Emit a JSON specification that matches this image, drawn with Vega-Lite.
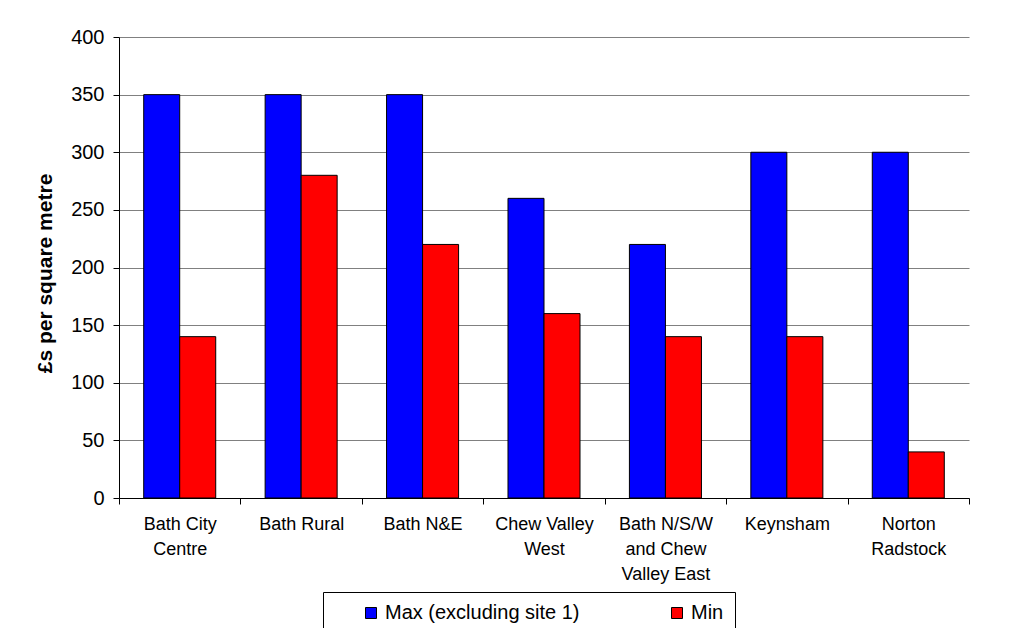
{
  "$schema": "https://vega.github.io/schema/vega-lite/v6.json",
  "width": 850,
  "height": 461,
  "autosize": {"type": "none"},
  "padding": {"left": 119, "top": 37, "right": 49, "bottom": 130},
  "background": "white",
  "config": {"view": {"stroke": null}, "font": "Liberation Sans"},
  "data": {
    "values": [
      {"area": "Bath City Centre", "series": "Max (excluding site 1)", "value": 350},
      {"area": "Bath City Centre", "series": "Min", "value": 140},
      {"area": "Bath Rural", "series": "Max (excluding site 1)", "value": 350},
      {"area": "Bath Rural", "series": "Min", "value": 280},
      {"area": "Bath N&E", "series": "Max (excluding site 1)", "value": 350},
      {"area": "Bath N&E", "series": "Min", "value": 220},
      {"area": "Chew Valley West", "series": "Max (excluding site 1)", "value": 260},
      {"area": "Chew Valley West", "series": "Min", "value": 160},
      {"area": "Bath N/S/W and Chew Valley East", "series": "Max (excluding site 1)", "value": 220},
      {"area": "Bath N/S/W and Chew Valley East", "series": "Min", "value": 140},
      {"area": "Keynsham", "series": "Max (excluding site 1)", "value": 300},
      {"area": "Keynsham", "series": "Min", "value": 140},
      {"area": "Norton Radstock", "series": "Max (excluding site 1)", "value": 300},
      {"area": "Norton Radstock", "series": "Min", "value": 40}
    ]
  },
  "mark": {"type": "bar", "stroke": "black", "strokeWidth": 1},
  "encoding": {
    "x": {
      "field": "area",
      "type": "nominal",
      "sort": null,
      "scale": {"paddingInner": 0, "paddingOuter": 0},
      "axis": {
        "title": null,
        "labelAngle": 0,
        "tickBand": "extent",
        "domainColor": "black",
        "tickColor": "black",
        "tickSize": 6,
        "labelFontSize": 18,
        "labelColor": "black",
        "labelPadding": 11,
        "labelLineHeight": 25,
        "labelBaseline": "top",
        "labelLimit": 0,
        "grid": false,
        "labelExpr": "datum.label == 'Bath City Centre' ? ['Bath City', 'Centre'] : datum.label == 'Chew Valley West' ? ['Chew  Valley', 'West'] : datum.label == 'Bath N/S/W and Chew Valley East' ? ['Bath N/S/W', 'and Chew', 'Valley East'] : datum.label == 'Norton Radstock' ? ['Norton', 'Radstock'] : datum.label"
      }
    },
    "xOffset": {
      "field": "series",
      "sort": null,
      "scale": {"paddingInner": 0, "paddingOuter": 0.686}
    },
    "y": {
      "field": "value",
      "type": "quantitative",
      "scale": {"domain": [0, 400]},
      "axis": {
        "title": "£s per square metre",
        "values": [0, 50, 100, 150, 200, 250, 300, 350, 400],
        "grid": true,
        "gridColor": "#808080",
        "gridWidth": 1,
        "domainColor": "black",
        "tickColor": "black",
        "tickSize": 6,
        "labelFontSize": 20,
        "labelColor": "black",
        "labelPadding": 9,
        "titleFontSize": 21,
        "titleFontWeight": "bold",
        "titleColor": "black",
        "titleAngle": -90,
        "titleBaseline": "middle",
        "titleX": -74,
        "titleY": 236
      }
    },
    "color": {
      "field": "series",
      "type": "nominal",
      "scale": {"domain": ["Max (excluding site 1)", "Min"], "range": ["#0000FF", "#FF0000"]},
      "legend": {
        "title": null,
        "orient": "none",
        "legendX": 204,
        "legendY": 555,
        "direction": "horizontal",
        "columns": 2,
        "strokeColor": "black",
        "fillColor": "white",
        "padding": 11,
        "symbolType": "square",
        "symbolSize": 121,
        "symbolStrokeColor": "black",
        "symbolStrokeWidth": 1,
        "symbolOffset": 27,
        "labelFontSize": 20,
        "labelColor": "black",
        "labelOffset": 4,
        "columnPadding": 60,
        "labelLimit": 0
      }
    }
  }
}
